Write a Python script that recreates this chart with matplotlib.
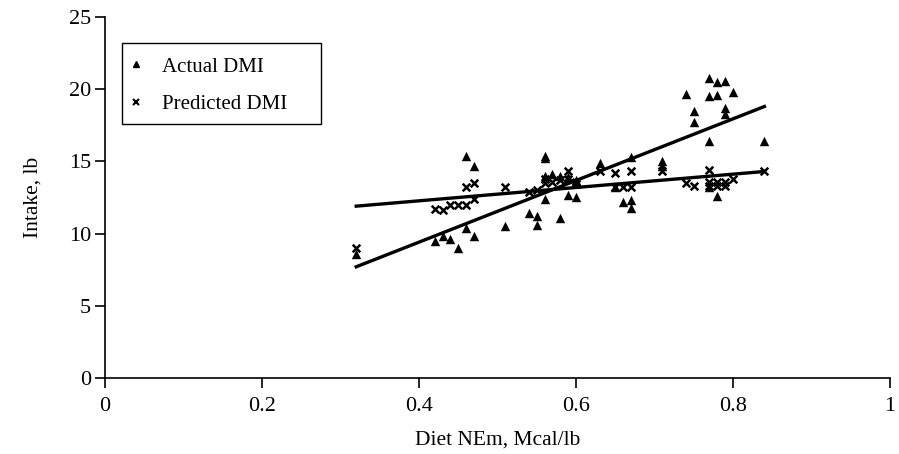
import matplotlib.pyplot as plt
from matplotlib.lines import Line2D
from matplotlib.patches import Rectangle

plt.rcParams['font.family'] = ['Liberation Serif', 'DejaVu Serif']

# diet energy (Mcal/lb) and actual dry matter intake (lb)
actual_nem = [0.32, 0.42, 0.43, 0.44, 0.45, 0.46, 0.46, 0.47, 0.47, 0.51,
              0.54, 0.55, 0.55, 0.56, 0.56, 0.56, 0.57, 0.58, 0.59, 0.60,
              0.58, 0.59, 0.60, 0.63, 0.65, 0.66, 0.67, 0.67, 0.67, 0.71,
              0.71, 0.74, 0.75, 0.75, 0.77, 0.78, 0.79, 0.80, 0.77, 0.78,
              0.79, 0.79, 0.77, 0.84, 0.77, 0.78, 0.56]
actual_dmi = [8.6, 9.5, 9.8, 9.6, 9.0, 10.4, 15.4, 14.7, 9.8, 10.5,
              11.4, 11.2, 10.6, 15.4, 12.4, 14.0, 14.1, 14.0, 13.9, 13.7,
              11.1, 12.7, 12.5, 14.9, 13.2, 12.2, 15.3, 12.3, 11.8, 15.0,
              14.7, 19.7, 18.5, 17.7, 20.8, 20.5, 20.6, 19.8, 19.5, 19.6,
              18.7, 18.3, 16.4, 16.4, 13.2, 12.6, 15.2]

# predicted intake for the same diets
pred_nem = [0.32, 0.42, 0.43, 0.44, 0.45, 0.46, 0.47, 0.46, 0.47, 0.51,
            0.54, 0.55, 0.56, 0.57, 0.58, 0.59, 0.60, 0.59, 0.60, 0.56,
            0.63, 0.65, 0.67, 0.65, 0.66, 0.67, 0.71, 0.74, 0.75, 0.77,
            0.77, 0.77, 0.78, 0.78, 0.79, 0.79, 0.80, 0.84]
pred_dmi = [9.0, 11.7, 11.6, 12.0, 12.0, 12.0, 12.4, 13.2, 13.5, 13.2,
            12.9, 13.0, 13.8, 13.6, 13.7, 13.8, 13.6, 14.3, 13.4, 13.5,
            14.3, 14.2, 14.3, 13.2, 13.2, 13.2, 14.3, 13.5, 13.3, 14.4,
            13.6, 13.3, 13.6, 13.3, 13.6, 13.3, 13.8, 14.3]

# linear trend lines (endpoints)
trend_x = [0.32, 0.84]
trend_actual = [7.7, 18.8]
trend_pred = [11.9, 14.3]

fig = plt.figure(figsize=(8.99, 4.54), dpi=100)
ax = fig.add_axes([0.1168, 0.1674, 0.8732, 0.7952])

ax.scatter(actual_nem, actual_dmi, marker='^', s=46, color='black',
           linewidths=0, zorder=3)
ax.scatter(pred_nem, pred_dmi, marker='x', s=30, color='black',
           linewidths=1.8, zorder=3)
ax.plot(trend_x, trend_actual, color='black', lw=2.4, zorder=2)
ax.plot(trend_x, trend_pred, color='black', lw=2.4, zorder=2)

ax.set_xlim(0, 1)
ax.set_ylim(0, 25)
ax.set_xticks([0, 0.2, 0.4, 0.6, 0.8, 1])
ax.set_xticklabels(['0', '0.2', '0.4', '0.6', '0.8', '1'])
ax.set_yticks([0, 5, 10, 15, 20, 25])
for s in ['top', 'right']:
    ax.spines[s].set_visible(False)
for s in ['left', 'bottom']:
    ax.spines[s].set_linewidth(1.2)
ax.tick_params(axis='both', direction='out', length=7, width=1.2,
               labelsize=16)
ax.tick_params(axis='x', pad=7)
ax.tick_params(axis='y', pad=3)
ax.set_xlabel('Diet NEm, Mcal/lb', fontsize=15.5, labelpad=10)
ax.set_ylabel('Intake, lb', fontsize=15.5, labelpad=19)

# legend box drawn separately so its padding can be set freely
ax.add_patch(Rectangle((0.0217, 0.7036), 0.2535, 0.2244,
                       transform=ax.transAxes, fill=False, edgecolor='black',
                       lw=1.0, zorder=4))
handles = [Line2D([], [], marker='^', color='black', ls='none', markersize=5),
           Line2D([], [], marker='x', color='black', ls='none', markersize=4.5,
                  markeredgewidth=1.5)]
leg = ax.legend(handles, ['Actual DMI', 'Predicted DMI'], loc='upper left',
                bbox_to_anchor=(0.0217, 0.899), borderaxespad=0, fontsize=15,
                frameon=False, handletextpad=0.75, labelspacing=0.85,
                borderpad=0.17, handlelength=1.0)

fig.savefig('out.png', dpi=100)
